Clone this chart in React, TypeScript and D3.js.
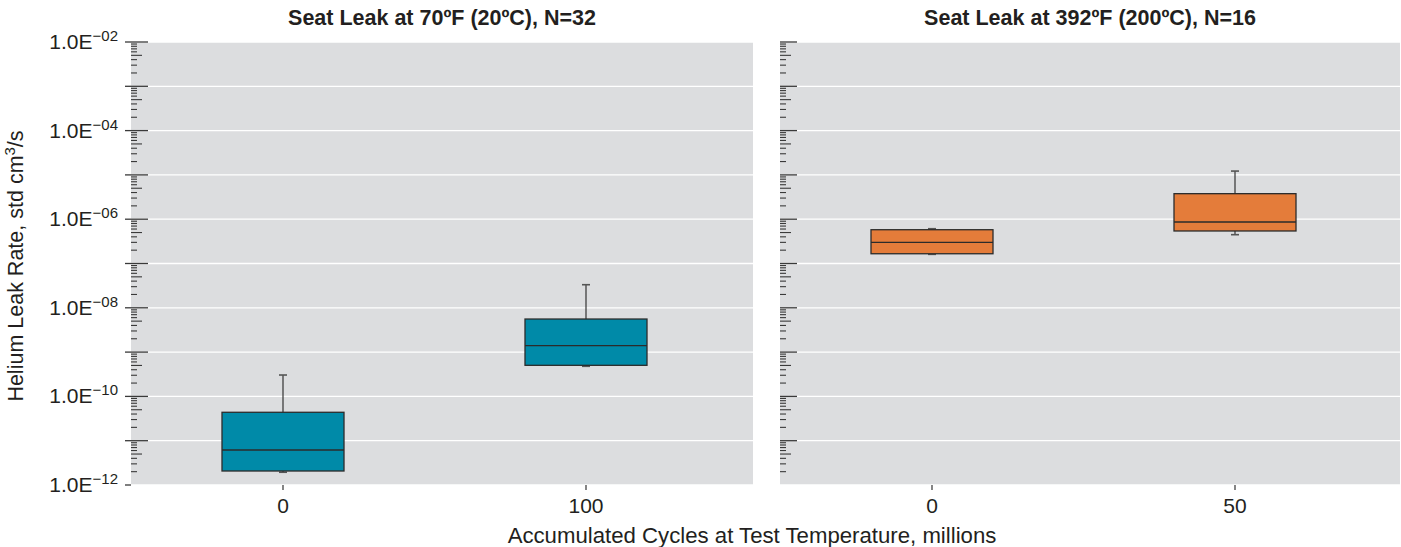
import React from "react";
import * as d3 from "d3";

const leftTitle = "Seat Leak at 70ºF (20ºC), N=32";
const rightTitle = "Seat Leak at 392ºF (200ºC), N=16";
const leftCats = ["0", "100"];
const rightCats = ["0", "50"];
const leftWhiskLow = [1.94e-12, 4.78e-10];
const leftQ1 = [2.07e-12, 5.03e-10];
const leftMedian = [6.17e-12, 1.4e-9];
const leftQ3 = [4.38e-11, 5.58e-9];
const leftWhiskHigh = [3.04e-10, 3.32e-8];
const rightWhiskLow = [1.61e-7, 4.47e-7];
const rightQ1 = [1.66e-7, 5.42e-7];
const rightMedian = [3.01e-7, 8.65e-7];
const rightQ3 = [5.79e-7, 3.77e-6];
const rightWhiskHigh = [6.1e-7, 1.22e-5];
const yTickExps = [-2, -4, -6, -8, -10, -12];
const yLabel = "Helium Leak Rate, std cm";
const xLabel = "Accumulated Cycles at Test Temperature, millions";

const W = 1401;
const H = 547;
const top = 42;
const bottom = 485;
const textColor = "#231f20";
const font = "'Liberation Sans', Arial, Helvetica, sans-serif";

const y = d3.scaleLog().domain([1e-12, 1e-2]).range([bottom, top]);

type PanelProps = {
  x0: number;
  x1: number;
  title: string;
  cats: string[];
  lo: number[];
  q1: number[];
  med: number[];
  q3: number[];
  hi: number[];
  color: string;
  outerTick: boolean;
};

function Panel(p: PanelProps) {
  const x = d3.scalePoint<string>().domain(p.cats).range([p.x0 + 152, p.x0 + 455]);
  const boxW = 122;
  const decades = d3.range(-12, -1);
  const minor: { v: number; k: number }[] = [];
  for (let e = -12; e < -2; e++) {
    for (let k = 2; k <= 9; k++) minor.push({ v: k * Math.pow(10, e), k });
  }
  return (
    <g>
      <rect x={p.x0} y={top} width={p.x1 - p.x0} height={bottom - top} fill="#dcdddf" />
      {decades.map((e) => (
        <line key={"g" + e} x1={p.x0} x2={p.x1} y1={y(Math.pow(10, e))} y2={y(Math.pow(10, e))} stroke="#ffffff" strokeWidth={1.3} />
      ))}
      {minor.map((m, i) => (
        <line key={"m" + i} x1={p.x0} x2={p.x0 + (m.k === 5 ? 11 : 6)} y1={y(m.v)} y2={y(m.v)} stroke="#3a3a3a" strokeWidth={1.1} />
      ))}
      {decades.map((e) => {
        const yy = y(Math.pow(10, e));
        const isBottom = e === -12;
        return (
          <line key={"M" + e} x1={p.outerTick ? p.x0 - 6 : p.x0} x2={isBottom ? p.x0 : p.x0 + 17} y1={yy} y2={yy} stroke="#3a3a3a" strokeWidth={1.3} />
        );
      })}
      {p.cats.map((c, i) => {
        const cx = x(c)!;
        return (
          <g key={"b" + c}>
            <line x1={cx} x2={cx} y1={y(p.hi[i])} y2={y(p.q3[i])} stroke="#333" strokeWidth={1.2} />
            <line x1={cx - 4} x2={cx + 4} y1={y(p.hi[i])} y2={y(p.hi[i])} stroke="#555" strokeWidth={1.6} />
            <line x1={cx} x2={cx} y1={y(p.lo[i])} y2={y(p.q1[i])} stroke="#333" strokeWidth={1.2} />
            <line x1={cx - 4} x2={cx + 4} y1={y(p.lo[i])} y2={y(p.lo[i])} stroke="#555" strokeWidth={1.6} />
            <rect x={cx - boxW / 2} y={y(p.q3[i])} width={boxW} height={y(p.q1[i]) - y(p.q3[i])} fill={p.color} stroke="#2b2b2b" strokeWidth={1.3} />
            <line x1={cx - boxW / 2} x2={cx + boxW / 2} y1={y(p.med[i])} y2={y(p.med[i])} stroke="#2b2b2b" strokeWidth={1.3} />
            <line x1={cx} x2={cx} y1={bottom} y2={bottom + 5} stroke="#333" strokeWidth={1.2} />
            <text x={cx} y={513} textAnchor="middle" fontSize={21} fill={textColor} fontFamily={font}>{c}</text>
          </g>
        );
      })}
      <text x={(p.x0 + p.x1) / 2} y={25} textAnchor="middle" fontSize={21.5} fontWeight="bold" fill={textColor} fontFamily={font}>{p.title}</text>
    </g>
  );
}

export default function App() {
  return (
    <svg width={W} height={H} style={{ position: "absolute", left: 0, top: 0, background: "#fff" }}>
      <Panel x0={131} x1={753} title={leftTitle} cats={leftCats} lo={leftWhiskLow} q1={leftQ1} med={leftMedian} q3={leftQ3} hi={leftWhiskHigh} color="#008aa8" outerTick={true} />
      <Panel x0={780} x1={1400} title={rightTitle} cats={rightCats} lo={rightWhiskLow} q1={rightQ1} med={rightMedian} q3={rightQ3} hi={rightWhiskHigh} color="#e47c3a" outerTick={false} />
      {yTickExps.map((e) => {
        const yy = y(Math.pow(10, e));
        const s = (e < 0 ? "\u2212" : "") + String(Math.abs(e)).padStart(2, "0");
        return (
          <text key={"yl" + e} x={118} y={yy + 7} textAnchor="end" fontSize={21} fill={textColor} fontFamily={font}>
            1.0E<tspan fontSize={15} dy={-8}>{s}</tspan>
          </text>
        );
      })}
      <text transform="translate(23,266) rotate(-90)" textAnchor="middle" fontSize={21.5} fill={textColor} fontFamily={font}>
        {yLabel}<tspan fontSize={15} dy={-8}>3</tspan><tspan dy={8}>/s</tspan>
      </text>
      <text x={752} y={543} textAnchor="middle" fontSize={22.2} fill={textColor} fontFamily={font}>{xLabel}</text>
    </svg>
  );
}
